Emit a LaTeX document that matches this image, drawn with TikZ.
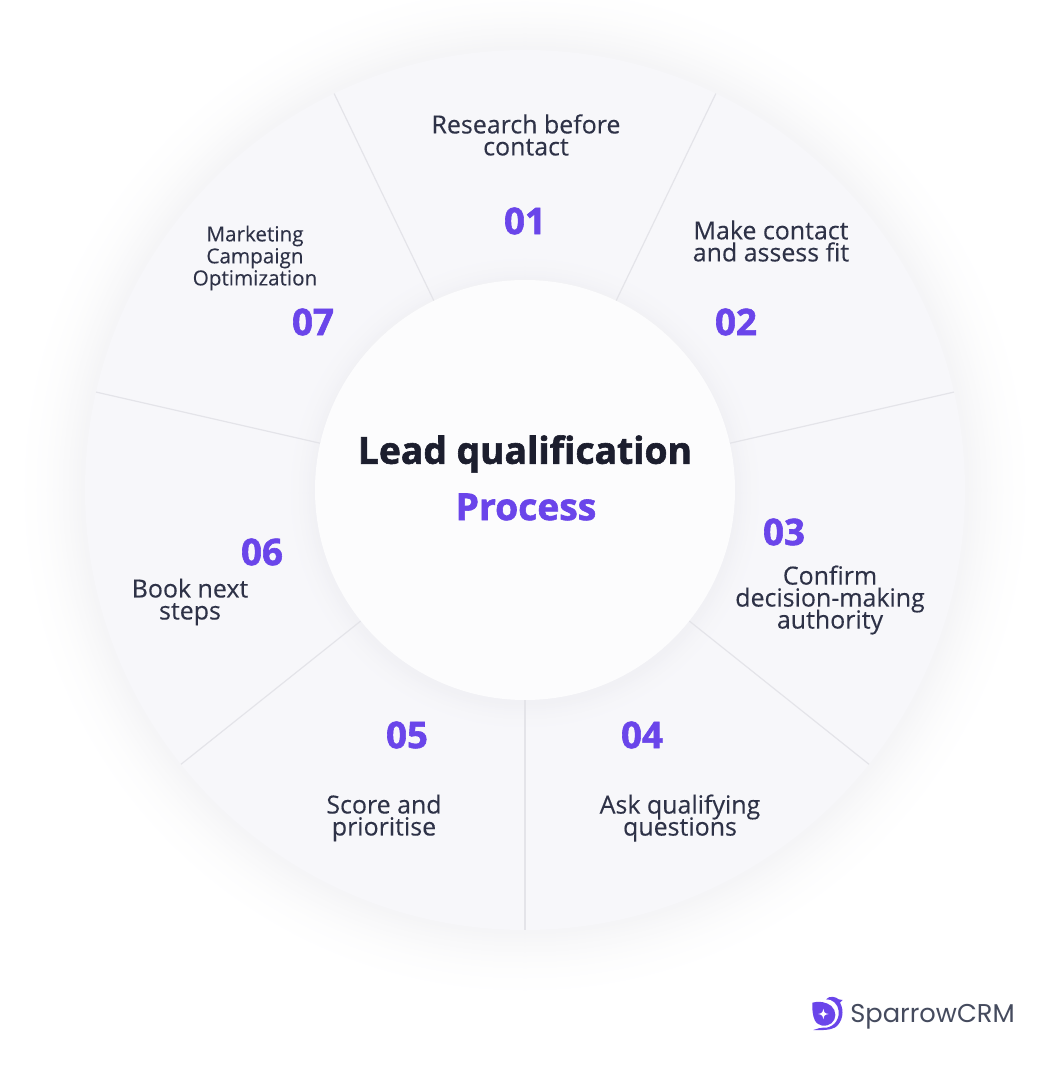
\documentclass[tikz,border=0pt]{standalone}
\usepackage{fontspec}
\setmainfont{Open Sans}
\newfontfamily\logofont{Poppins}
\newfontfamily\heavyfont[FakeBold=1.6]{Open Sans Bold}
\newfontfamily\mediumfont[FakeBold=0.2]{Open Sans}
\setlength{\lineskiplimit}{-100pt}
\setlength{\normallineskiplimit}{-100pt}
\definecolor{wheelfill}{HTML}{F7F7FA}
\definecolor{wheeledge}{HTML}{F4F4F6}
\definecolor{hubfill}{HTML}{FCFCFD}
\definecolor{hubedge}{HTML}{F0F0F4}
\definecolor{spokeline}{HTML}{E4E4E9}
\definecolor{inktext}{HTML}{2E3247}
\definecolor{titletext}{HTML}{1C1E2E}
\definecolor{purple}{HTML}{6A45EA}
\definecolor{logotext}{HTML}{454B5E}
\tikzset{
    steplabel/.style={text=inktext, align=center, inner sep=0pt, font=\mediumfont\fontsize{18.7}{16.5}\selectfont},
    smalllabel/.style={text=inktext, align=center, inner sep=0pt, font=\mediumfont\fontsize{15.5}{16.5}\selectfont},
    stepnum/.style={text=purple, inner sep=0pt, font=\heavyfont\fontsize{27.5}{30}\selectfont},
}
\begin{document}
\begin{tikzpicture}[x=0.75pt, y=0.75pt]
    \useasboundingbox (-525,-590) rectangle (525,490);
    \fill[white] (-525,-590) rectangle (525,490);

    % soft shadow round the wheel
    \foreach \r in {516,514,...,442} {
        \pgfmathtruncatemacro{\p}{100*((516-\r)/76)^2}
        \fill[wheeledge!\p!white] (0,0) circle (\r);
    }
    \fill[wheelfill] (0,0) circle (440);

    % shadow under the hub
    \foreach \r in {244,242,...,212} {
        \pgfmathtruncatemacro{\p}{100*((244-\r)/34)^2}
        \fill[hubedge!\p!wheelfill] (0,-3) circle (\r);
    }

    % draw spokes
    \foreach \a in {64.29,12.86,-38.57,-90,-141.43,-192.86,-244.29}
        \draw[spokeline, line width=0.9pt] (\a:205) -- (\a:440);

    \node[circle, fill=hubfill, minimum size=315pt, inner sep=0pt] (hub) at (0,0) {};

    \node[inner sep=0pt, text=titletext, font=\heavyfont\fontsize{27.9}{30}\selectfont] (title) at (0,36) {Lead qualification};
    \node[inner sep=0pt, text=purple, font=\heavyfont\fontsize{27.9}{30}\selectfont] (process) at (1,-17) {Process};

    \node[steplabel] (research) at (1,355) {Research before\\contact};
    \node[stepnum] (n1) at (0,269) {01};
    \node[steplabel] (contact) at (246,249) {Make contact\\and assess fit};
    \node[stepnum] (n2) at (211,168) {02};
    \node[stepnum] (n3) at (259,-42) {03};
    \node[steplabel] (confirm) at (305,-110) {Confirm\\decision-making\\authority};
    \node[stepnum] (n4) at (117,-245) {04};
    \node[steplabel] (ask) at (155,-328) {Ask qualifying\\questions};
    \node[stepnum] (n5) at (-118,-245) {05};
    \node[steplabel] (score) at (-141,-328) {Score and\\prioritise};
    \node[stepnum] (n6) at (-263,-62) {06};
    \node[steplabel] (book) at (-335,-112) {Book next\\steps};
    \node[stepnum] (n7) at (-212,168) {07};
    \node[smalllabel] (marketing) at (-270,232) {Marketing\\Campaign\\Optimization};

    % logo
    \begin{scope}[shift={(265,-490)}, x=0.25pt, y=-0.25pt]
        \fill[purple] (67,68) .. controls (85,62) and (110,66) .. (124,78)
            .. controls (140,92) and (140,118) .. (124,130)
            .. controls (108,142) and (84,140) .. (74,120)
            .. controls (68,106) and (66,88) .. (67,68) -- cycle;
        \fill[purple] (108,58) .. controls (118,46) and (138,50) .. (146,58) -- (158,60) -- (150,68)
            .. controls (164,92) and (158,126) .. (136,142)
            .. controls (118,152) and (96,150) .. (70,150)
            .. controls (84,146) and (92,142) .. (100,143)
            .. controls (122,146) and (150,126) .. (146,92)
            .. controls (144,72) and (126,56) .. (108,58) -- cycle;
        \fill[white] (100,86) .. controls (102,98) and (104,100) .. (116,102)
            .. controls (104,104) and (102,106) .. (100,118)
            .. controls (98,106) and (96,104) .. (84,102)
            .. controls (96,100) and (98,98) .. (100,86) -- cycle;
    \end{scope}
    \node[inner sep=0pt, text=logotext, font=\logofont\fontsize{19.3}{24}\selectfont] (logo) at (407.5,-527) {SparrowCRM};
\end{tikzpicture}
\end{document}
